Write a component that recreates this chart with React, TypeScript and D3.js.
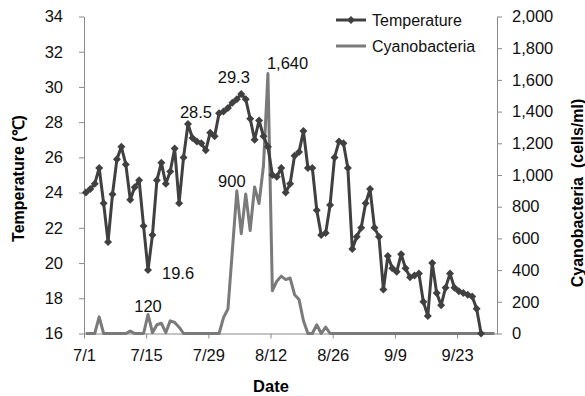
import React, { useEffect, useRef } from "react";
import * as d3 from "d3";

// daily water temperature, 7/1 .. 9/28
const tempDates = [
  "7/1", "7/2", "7/3", "7/4", "7/5", "7/6", "7/7", "7/8", "7/9", "7/10",
  "7/11", "7/12", "7/13", "7/14", "7/15", "7/16", "7/17", "7/18", "7/19", "7/20",
  "7/21", "7/22", "7/23", "7/24", "7/25", "7/26", "7/27", "7/28", "7/29", "7/30",
  "7/31", "8/1", "8/2", "8/3", "8/4", "8/5", "8/6", "8/7", "8/8", "8/9",
  "8/10", "8/11", "8/12", "8/13", "8/14", "8/15", "8/16", "8/17", "8/18", "8/19",
  "8/20", "8/21", "8/22", "8/23", "8/24", "8/25", "8/26", "8/27", "8/28", "8/29",
  "8/30", "8/31", "9/1", "9/2", "9/3", "9/4", "9/5", "9/6", "9/7", "9/8",
  "9/9", "9/10", "9/11", "9/12", "9/13", "9/14", "9/15", "9/16", "9/17", "9/18",
  "9/19", "9/20", "9/21", "9/22", "9/23", "9/24", "9/25", "9/26", "9/27", "9/28",
];
const tempValues = [
  24.0, 24.2, 24.5, 25.4, 23.4, 21.2, 23.9, 25.9, 26.6, 25.6,
  23.6, 24.3, 24.7, 22.1, 19.6, 21.6, 24.7, 25.7, 24.5, 25.2,
  26.5, 23.4, 26.0, 27.9, 27.1, 26.9, 26.8, 26.4, 27.4, 27.2,
  28.5, 28.6, 28.8, 29.1, 29.3, 29.6, 29.3, 28.2, 27.0, 28.1,
  27.2, 26.6, 25.0, 24.9, 25.4, 24.0, 24.5, 26.1, 26.3, 27.5,
  25.4, 25.4, 23.0, 21.6, 21.7, 23.3, 26.0, 26.9, 26.8, 25.4,
  20.8, 21.5, 22.0, 23.4, 24.2, 22.0, 21.5, 18.5, 20.4, 19.7,
  19.5, 20.5, 19.7, 19.2, 19.3, 19.4, 17.8, 17.0, 20.0, 18.3,
  17.6, 18.6, 19.4, 18.6, 18.4, 18.3, 18.2, 18.1, 17.4, 16.0,
];

// cyanobacteria counts (cells/ml)
const cyanoDates = [
  "7/1", "7/3", "7/4", "7/5", "7/10", "7/11", "7/12", "7/14", "7/15", "7/16",
  "7/17", "7/18", "7/19", "7/20", "7/21", "7/22", "7/23", "7/31", "8/1", "8/2",
  "8/4", "8/5", "8/6", "8/7", "8/8", "8/9", "8/10", "8/11", "8/12", "8/13",
  "8/14", "8/15", "8/16", "8/17", "8/18", "8/19", "8/20", "8/21", "8/22", "8/23",
  "8/24", "8/25", "10/1",
];
const cyanoValues = [
  0, 0, 105, 0, 0, 15, 0, 0, 120, 5,
  55, 65, 5, 80, 70, 40, 0, 0, 100, 155,
  900, 630, 880, 650, 925, 820, 1060, 1640, 270, 330,
  362, 340, 350, 245, 215, 80, 0, 0, 55, 0,
  40, 0, 0,
];

const dateTicks = ["7/1", "7/15", "7/29", "8/12", "8/26", "9/9", "9/23"];
const tempTicks = [16, 18, 20, 22, 24, 26, 28, 30, 32, 34];
const cyanoTicks = [0, 200, 400, 600, 800, 1000, 1200, 1400, 1600, 1800, 2000];

// data labels: [date, text]
const tempLabels = [
  ["7/15", "19.6"],
  ["7/31", "28.5"],
  ["8/4", "29.3"],
];
const cyanoLabels = [
  ["7/15", "120"],
  ["8/4", "900"],
  ["8/11", "1,640"],
];

export default function App() {
  const ref = useRef<SVGSVGElement>(null);

  useEffect(() => {
    const svg = d3.select(ref.current);
    svg.selectAll("*").remove();

    const font = "'Liberation Sans', Arial, sans-serif";
    const axisColor = "#8a8a8a";
    const tempColor = "#404040";
    const cyanoColor = "#7a7a7a";

    const parse = d3.utcParse("%m/%d");
    const x = d3
      .scaleUtc()
      .domain([parse("7/1")!, parse("10/2")!])
      .range([84, 497]);
    // points sit a little after the day tick, like the original
    const px = (s: string) => x(d3.utcHour.offset(parse(s)!, 10));
    const yT = d3.scaleLinear().domain([16, 34]).range([333.5, 16.5]);
    const yC = d3.scaleLinear().domain([0, 2000]).range([333.5, 16.5]);

    const styleAxis = (g: any) => {
      g.select(".domain").attr("stroke", axisColor);
      g.selectAll(".tick line").attr("stroke", axisColor);
      g.selectAll(".tick text")
        .attr("fill", "#111")
        .attr("font-size", 16.5)
        .attr("font-family", font);
    };

    // left axis
    svg
      .append("g")
      .attr("transform", "translate(84,0)")
      .call(
        d3
          .axisLeft(yT)
          .tickValues(tempTicks)
          .tickSize(5)
          .tickSizeOuter(0)
          .tickPadding(16)
          .tickFormat(d3.format("d"))
      )
      .call(styleAxis);

    // right axis
    svg
      .append("g")
      .attr("transform", "translate(497,0)")
      .call(
        d3
          .axisRight(yC)
          .tickValues(cyanoTicks)
          .tickSize(5)
          .tickSizeOuter(0)
          .tickPadding(10)
          .tickFormat(d3.format(","))
      )
      .call(styleAxis);

    // bottom axis
    svg
      .append("g")
      .attr("transform", "translate(0,333.5)")
      .call(
        d3
          .axisBottom(x)
          .tickValues(dateTicks.map((s) => parse(s)!))
          .tickSize(5)
          .tickSizeOuter(0)
          .tickPadding(11)
          .tickFormat(d3.utcFormat("%-m/%-d") as any)
      )
      .call(styleAxis);

    // cyanobacteria line
    const cyanoLine = d3
      .line<number>()
      .x((_, i) => px(cyanoDates[i]))
      .y((d) => yC(d));
    svg
      .append("path")
      .attr("d", cyanoLine(cyanoValues))
      .attr("fill", "none")
      .attr("stroke", cyanoColor)
      .attr("stroke-width", 3)
      .attr("stroke-linejoin", "round");

    // temperature line
    const tempLine = d3
      .line<number>()
      .x((_, i) => px(tempDates[i]))
      .y((d) => yT(d));
    svg
      .append("path")
      .attr("d", tempLine(tempValues))
      .attr("fill", "none")
      .attr("stroke", tempColor)
      .attr("stroke-width", 3)
      .attr("stroke-linejoin", "round");

    const diamond = d3.symbol(d3.symbolSquare, 32);
    svg
      .append("g")
      .selectAll("path")
      .data(tempValues)
      .join("path")
      .attr("d", diamond)
      .attr("fill", tempColor)
      .attr(
        "transform",
        (d, i) => `translate(${px(tempDates[i])},${yT(d)}) rotate(45)`
      );

    // data labels
    const labelStyle = (t: any) =>
      t
        .attr("font-family", font)
        .attr("font-size", 16.5)
        .attr("fill", "#111")
        .attr("dominant-baseline", "central");
    const tOffsets: Record<string, [string, number, number]> = {
      "19.6": ["start", 14, 3],
      "28.5": ["end", -7, -1],
      "29.3": ["middle", -3, -22],
    };
    tempLabels.forEach(([date, text]) => {
      const v = tempValues[tempDates.indexOf(date)];
      const [anchor, dx, dy] = tOffsets[text];
      svg
        .append("text")
        .attr("x", px(date) + dx)
        .attr("y", yT(v) + dy)
        .attr("text-anchor", anchor)
        .text(text)
        .call(labelStyle);
    });
    const cOffsets: Record<string, [string, number, number]> = {
      "120": ["middle", 0, -8],
      "900": ["middle", -5, -10],
      "1,640": ["start", -1, -11],
    };
    cyanoLabels.forEach(([date, text]) => {
      const v = cyanoValues[cyanoDates.indexOf(date)];
      const [anchor, dx, dy] = cOffsets[text];
      svg
        .append("text")
        .attr("x", px(date) + dx)
        .attr("y", yC(v) + dy)
        .attr("text-anchor", anchor)
        .text(text)
        .call(labelStyle);
    });

    // axis titles
    svg
      .append("text")
      .attr("transform", "translate(18,178.5) rotate(-90)")
      .attr("text-anchor", "middle")
      .attr("dominant-baseline", "central")
      .attr("font-family", font)
      .attr("font-weight", "bold")
      .attr("font-size", 16)
      .text("Temperature (℃)");
    svg
      .append("text")
      .attr("transform", "translate(577,193) rotate(-90)")
      .attr("text-anchor", "middle")
      .attr("dominant-baseline", "central")
      .attr("font-family", font)
      .attr("font-weight", "bold")
      .attr("font-size", 16)
      .attr("xml:space", "preserve")
      .text("Cyanobacteria  (cells/ml)");
    svg
      .append("text")
      .attr("x", 271)
      .attr("y", 386)
      .attr("text-anchor", "middle")
      .attr("dominant-baseline", "central")
      .attr("font-family", font)
      .attr("font-weight", "bold")
      .attr("font-size", 16.5)
      .text("Date");

    // legend
    const legend = svg.append("g").attr("transform", "translate(336,0)");
    legend
      .append("line")
      .attr("x1", 0)
      .attr("x2", 30)
      .attr("y1", 20)
      .attr("y2", 20)
      .attr("stroke", tempColor)
      .attr("stroke-width", 3);
    legend
      .append("path")
      .attr("d", diamond)
      .attr("fill", tempColor)
      .attr("transform", "translate(15,20) rotate(45)");
    legend
      .append("line")
      .attr("x1", 0)
      .attr("x2", 30)
      .attr("y1", 46)
      .attr("y2", 46)
      .attr("stroke", cyanoColor)
      .attr("stroke-width", 3);
    legend
      .selectAll("text")
      .data(["Temperature", "Cyanobacteria"])
      .join("text")
      .attr("x", 36)
      .attr("y", (_, i) => 20 + i * 26)
      .attr("dominant-baseline", "central")
      .attr("font-family", font)
      .attr("font-size", 16)
      .attr("fill", "#111")
      .text((d) => d);
  }, []);

  return (
    <svg
      ref={ref}
      width={585}
      height={396}
      style={{ position: "absolute", left: 0, top: 0, background: "#fff" }}
    />
  );
}
